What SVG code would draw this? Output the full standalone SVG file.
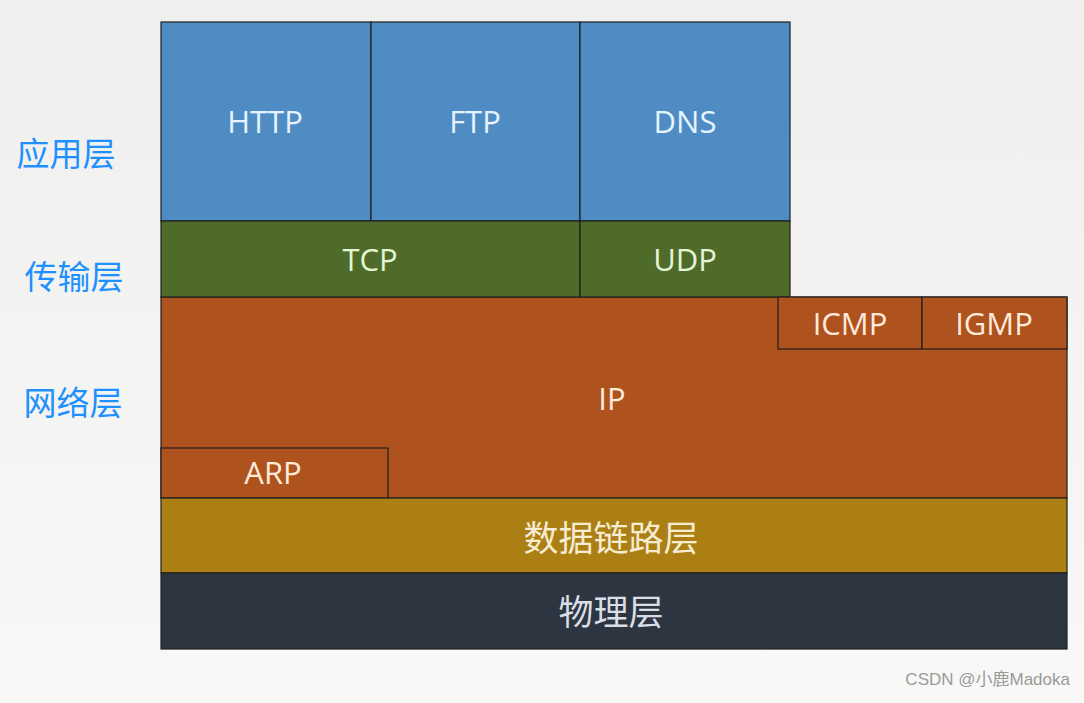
<svg xmlns="http://www.w3.org/2000/svg" width="1084" height="703" viewBox="0 0 1084 703">
<defs>
<linearGradient id="bg" x1="0" y1="0" x2="0" y2="1">
<stop offset="0" stop-color="#efefee"/>
<stop offset="1" stop-color="#f8f8f7"/>
</linearGradient>
<style>
.box{stroke:#1f1f1f;stroke-width:1.2}
.lbl{font-family:"Open Sans","Noto Sans CJK SC",sans-serif;font-size:31px;text-anchor:middle;dominant-baseline:central}
.cjk{font-family:"Noto Sans CJK SC",sans-serif;font-size:35px;text-anchor:middle;dominant-baseline:central}
.side{font-family:"Noto Sans CJK SC",sans-serif;font-size:33px;fill:#1e90ff;text-anchor:middle;dominant-baseline:central}
.app{fill:#4f8cc4}
.tr{fill:#4e6b2a}
.net{fill:#ae521e}
.dl{fill:#ab7f14}
.ph{fill:#2d3540}
</style>
</defs>
<rect width="1084" height="703" fill="url(#bg)"/>
<g id="side-labels">
<text class="side" x="66" y="152">应用层</text>
<text class="side" x="74" y="275">传输层</text>
<text class="side" x="73" y="401">网络层</text>
</g>
<g id="IP">
<path class="box net" d="M161,297 H1067 V498 H161 Z"/>
<text class="lbl" x="612" y="398" fill="#ffe9db">IP</text>
</g>
<g id="HTTP">
<rect class="box app" x="161" y="22" width="210" height="199"/>
<text class="lbl" x="265" y="121" fill="#e6f3ff">HTTP</text>
</g>
<g id="FTP">
<rect class="box app" x="371" y="22" width="209" height="199"/>
<text class="lbl" x="475" y="121" fill="#e6f3ff">FTP</text>
</g>
<g id="DNS">
<rect class="box app" x="580" y="22" width="210" height="199"/>
<text class="lbl" x="685" y="121" fill="#e6f3ff">DNS</text>
</g>
<g id="TCP">
<rect class="box tr" x="161" y="221" width="419" height="76"/>
<text class="lbl" x="370" y="259" fill="#e3f5d3">TCP</text>
</g>
<g id="UDP">
<rect class="box tr" x="580" y="221" width="210" height="76"/>
<text class="lbl" x="685" y="259" fill="#e3f5d3">UDP</text>
</g>
<g id="ICMP">
<rect class="box net" x="778" y="297" width="144" height="52"/>
<text class="lbl" x="850" y="323" fill="#ffe9db">ICMP</text>
</g>
<g id="IGMP">
<rect class="box net" x="922" y="297" width="145" height="52"/>
<text class="lbl" x="994" y="323" fill="#ffe9db">IGMP</text>
</g>
<g id="ARP">
<rect class="box net" x="161" y="448" width="227" height="50"/>
<text class="lbl" x="273" y="472" fill="#ffe9db">ARP</text>
</g>
<g id="datalink">
<rect class="box dl" x="161" y="498" width="906" height="75"/>
<text class="cjk" x="611" y="535" fill="#f6ecd2">数据链路层</text>
</g>
<g id="physical">
<rect class="box ph" x="161" y="573" width="906" height="76"/>
<text class="cjk" x="611" y="609" fill="#d9dee6">物理层</text>
</g>
<g id="connectors"/>
<text x="1070" y="685" font-family="'Liberation Sans','Noto Sans CJK SC',sans-serif" font-size="17" fill="#9a9a9a" text-anchor="end">CSDN @小鹿Madoka</text>
</svg>
